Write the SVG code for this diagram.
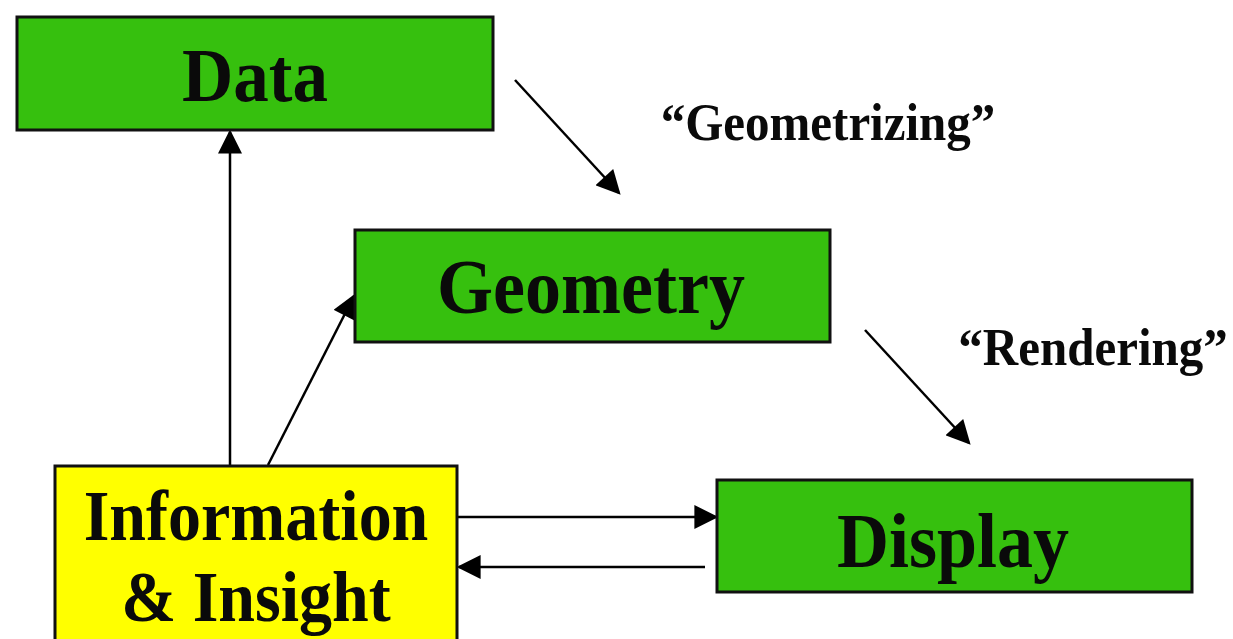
<svg xmlns="http://www.w3.org/2000/svg" width="1233" height="639" viewBox="0 0 1233 639">
<defs>
<style>
.box{stroke:#111;stroke-width:3}
.green{fill:#36c00e}
.yellow{fill:#ffff00}
.lbl{font-family:"Liberation Serif","Times New Roman",serif;font-weight:bold;fill:#0a0a0a;text-anchor:middle}
.conn{stroke:#000;stroke-width:2.5;fill:none;marker-end:url(#ahb)}
</style>
<marker id="ahb" viewBox="0 0 10 10" refX="9" refY="5" markerWidth="25" markerHeight="24" markerUnits="userSpaceOnUse" orient="auto">
<path d="M0,0 L10,5 L0,10 z" fill="#000"/>
</marker>
</defs>
<rect width="1233" height="639" fill="#fff"/>
<g id="connectors">
<line class="conn" x1="230" y1="465" x2="230" y2="132"/>
<line class="conn" x1="268" y1="465" x2="354" y2="296"/>
<line class="conn" x1="515" y1="80" x2="619" y2="193"/>
<line class="conn" x1="865" y1="330" x2="969" y2="443"/>
<line class="conn" x1="458" y1="517" x2="716" y2="517"/>
<line class="conn" x1="705" y1="567" x2="459" y2="567"/>
</g>
<g id="label-geometrizing"><text class="lbl" transform="translate(828,140) scale(1,1.08)" font-size="49">“Geometrizing”</text></g>
<g id="label-rendering"><text class="lbl" transform="translate(1093,365) scale(1,1.08)" font-size="49">“Rendering”</text></g>
<g id="node-data">
<rect class="box green" x="17" y="17" width="476" height="113"/>
<text class="lbl" transform="translate(255,101) scale(1,1.08)" font-size="71">Data</text>
</g>
<g id="node-geometry">
<rect class="box green" x="355" y="230" width="475" height="112"/>
<text class="lbl" transform="translate(591,313) scale(1,1.08)" font-size="72">Geometry</text>
</g>
<g id="node-display">
<rect class="box green" x="717" y="480" width="475" height="112"/>
<text class="lbl" transform="translate(953,567) scale(1,1.08)" font-size="72">Display</text>
</g>
<g id="node-info">
<rect class="box yellow" x="55" y="466" width="402" height="190"/>
<text class="lbl" transform="translate(256,540) scale(1,1.08)" font-size="66">Information</text>
<text class="lbl" transform="translate(256,621) scale(1,1.08)" font-size="66">&amp; Insight</text>
</g>
</svg>
